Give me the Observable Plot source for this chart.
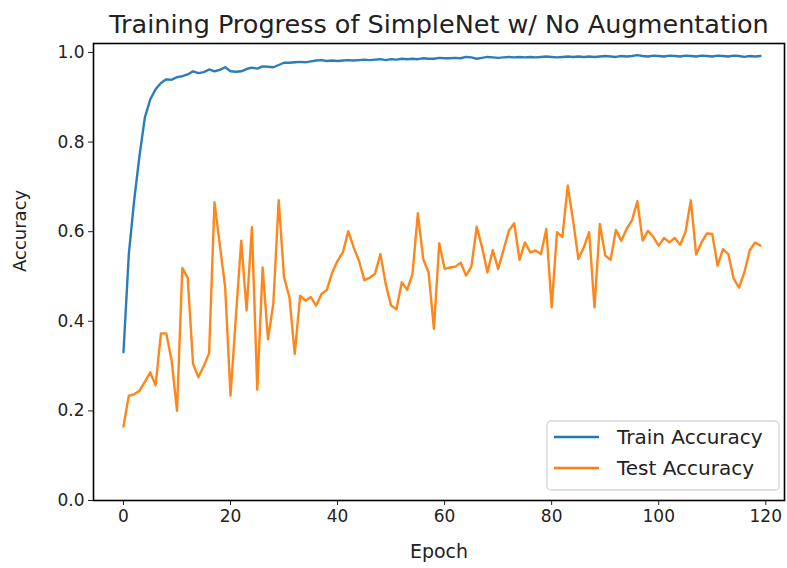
<!DOCTYPE html>
<html>
<head>
<meta charset="utf-8">
<script src="https://cdn.jsdelivr.net/npm/d3@7"></script>
<script src="https://cdn.jsdelivr.net/npm/@observablehq/plot@0.6"></script>
<style>
  html, body { margin: 0; padding: 0; background: #fff; }
  #chart svg { display: block; }
</style>
</head>
<body>
<div id="chart"></div>
<script>
const title = "Training Progress of SimpleNet w/ No Augmentation";
const xLabel = "Epoch";
const yLabel = "Accuracy";
const seriesNames = ["Train Accuracy", "Test Accuracy"];
const seriesColors = ["#1f77b4", "#ff7f0e"];
const xTicks = [0, 20, 40, 60, 80, 100, 120];
const yTicks = [0, 0.2, 0.4, 0.6, 0.8, 1.0];

const trainAcc = [
  0.331, 0.55, 0.67, 0.77, 0.855, 0.895, 0.918, 0.932, 0.940, 0.939,
  0.945, 0.947, 0.951, 0.958, 0.954, 0.956, 0.962, 0.958, 0.961, 0.967,
  0.958, 0.957, 0.958, 0.963, 0.966, 0.964, 0.969, 0.968, 0.967, 0.972,
  0.977, 0.977, 0.978, 0.979, 0.978, 0.980, 0.982, 0.983, 0.981, 0.982,
  0.981, 0.982, 0.983, 0.982, 0.983, 0.984, 0.983, 0.984, 0.985, 0.983,
  0.985, 0.984, 0.986, 0.985, 0.986, 0.985, 0.987, 0.986, 0.986, 0.988,
  0.987, 0.987, 0.988, 0.987, 0.990, 0.989, 0.986, 0.988, 0.990, 0.989,
  0.988, 0.989, 0.990, 0.989, 0.990, 0.989, 0.990, 0.989, 0.990, 0.991,
  0.990, 0.989, 0.990, 0.991, 0.990, 0.991, 0.990, 0.991, 0.990, 0.991,
  0.992, 0.991, 0.990, 0.992, 0.991, 0.992, 0.994, 0.992, 0.991, 0.993,
  0.992, 0.991, 0.993, 0.992, 0.991, 0.993, 0.992, 0.991, 0.993, 0.992,
  0.991, 0.993, 0.992, 0.991, 0.993, 0.992, 0.990, 0.992, 0.991, 0.992
];

const testAcc = [
  0.165, 0.234, 0.237, 0.245, 0.265, 0.286, 0.257, 0.373, 0.373, 0.312,
  0.200, 0.519, 0.497, 0.305, 0.275, 0.300, 0.329, 0.666, 0.570, 0.476,
  0.234, 0.410, 0.580, 0.424, 0.610, 0.247, 0.520, 0.360, 0.440, 0.670,
  0.498, 0.454, 0.327, 0.457, 0.446, 0.454, 0.435, 0.461, 0.470, 0.509,
  0.535, 0.554, 0.601, 0.565, 0.535, 0.492, 0.497, 0.506, 0.550, 0.483,
  0.435, 0.427, 0.487, 0.470, 0.506, 0.641, 0.539, 0.509, 0.383, 0.574,
  0.517, 0.520, 0.522, 0.531, 0.502, 0.522, 0.611, 0.565, 0.509, 0.559,
  0.517, 0.559, 0.602, 0.619, 0.537, 0.576, 0.554, 0.558, 0.550, 0.606,
  0.431, 0.599, 0.588, 0.703, 0.625, 0.539, 0.565, 0.599, 0.431, 0.617,
  0.547, 0.537, 0.604, 0.580, 0.606, 0.625, 0.668, 0.580, 0.602, 0.588,
  0.569, 0.586, 0.576, 0.586, 0.571, 0.599, 0.670, 0.549, 0.576, 0.596,
  0.595, 0.524, 0.561, 0.550, 0.495, 0.475, 0.509, 0.558, 0.576, 0.569
];

const xDomain = [-5.6, 123.5];
const yDomain = [0, 1.02];

const epochs = trainAcc.map((_, i) => i);
const rows = [];
epochs.forEach(e => rows.push({epoch: e, acc: trainAcc[e], series: seriesNames[0]}));
epochs.forEach(e => rows.push({epoch: e, acc: testAcc[e], series: seriesNames[1]}));

const textColor = "#222";
const font = "DejaVu Sans";

const chart = Plot.plot({
  width: 787,
  height: 568,
  marginLeft: 93,
  marginRight: 3,
  marginTop: 43,
  marginBottom: 68,
  style: {fontFamily: font, fontSize: "17px", color: textColor, background: "#fff"},
  x: {domain: xDomain},
  y: {domain: yDomain},
  color: {domain: seriesNames, range: seriesColors},
  marks: [
    Plot.axisX({ticks: xTicks, tickSize: 5, tickPadding: 4, tickFormat: d3.format("d"), label: null, fontSize: 17, stroke: textColor}),
    Plot.axisY({ticks: yTicks, tickSize: 5, tickPadding: 4, tickFormat: d3.format(".1f"), label: null, fontSize: 17, stroke: textColor}),
    Plot.line(rows, {x: "epoch", y: "acc", stroke: "series", z: "series", strokeWidth: 2.4, strokeOpacity: 0.95}),
    Plot.frame({stroke: "#000", strokeWidth: 1.6}),
    Plot.text([title], {text: d => d, frameAnchor: "top", dy: -29, fontSize: 25.5, fill: textColor}),
    Plot.text([xLabel], {text: d => d, frameAnchor: "bottom", dy: 57, fontSize: 19, fill: textColor}),
    Plot.text([yLabel], {text: d => d, frameAnchor: "left", dx: -73, rotate: -90, fontSize: 18, fill: textColor})
  ]
});

document.getElementById("chart").appendChild(chart);

const svg = d3.select(chart);
const [x0, x1] = chart.scale("x").range;
const [y0, y1] = chart.scale("y").range;

// Legend (lower right)
const lg = svg.append("g").attr("font-family", font).attr("font-size", 20).attr("text-anchor", "start");
const bw = 232, bh = 69;
const bx = Math.max(x0, x1) - bw - 5, by = Math.max(y0, y1) - bh - 10;
lg.append("rect").attr("x", bx).attr("y", by).attr("width", bw).attr("height", bh)
  .attr("rx", 4).attr("fill", "#fff").attr("fill-opacity", 0.85)
  .attr("stroke", "#d6d6d6").attr("stroke-width", 1.3);
seriesNames.forEach((name, i) => {
  const yy = by + 16 + i * 31;
  lg.append("line").attr("x1", bx + 7).attr("x2", bx + 52).attr("y1", yy).attr("y2", yy)
    .attr("stroke", seriesColors[i]).attr("stroke-width", 2.6);
  lg.append("text").attr("x", bx + 70).attr("y", yy).attr("dy", "0.36em")
    .attr("text-anchor", "start").attr("fill", textColor).text(name);
});
</script>
</body>
</html>
